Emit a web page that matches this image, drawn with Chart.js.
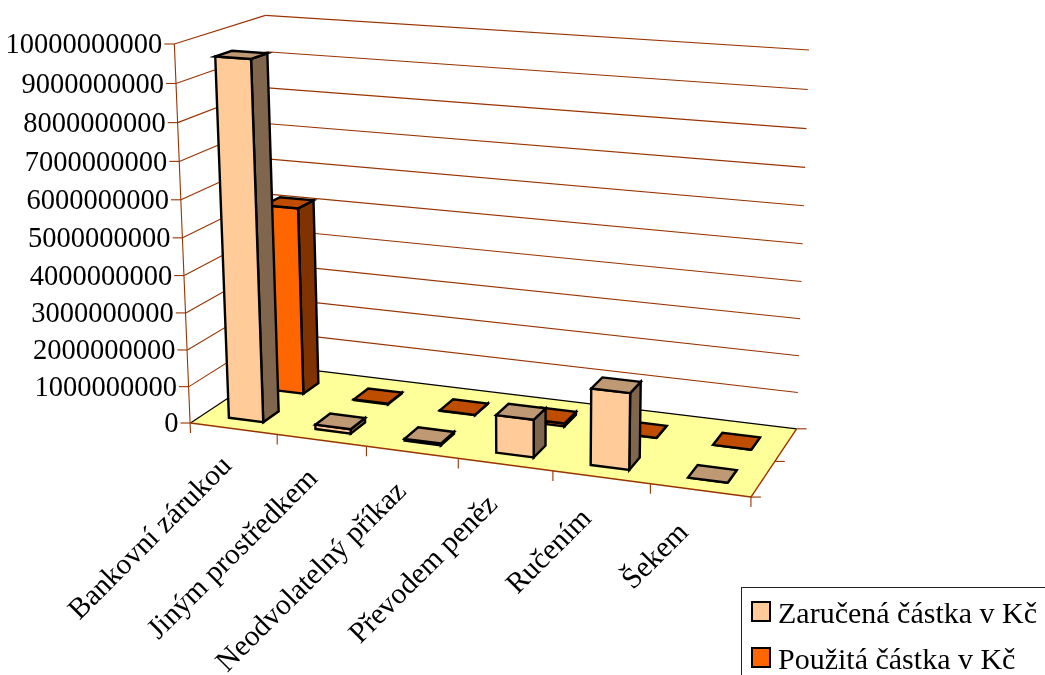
<!DOCTYPE html>
<html>
<head>
<meta charset="utf-8">
<title>Zajištění</title>
<style>
    html, body { margin: 0; padding: 0; background: #fff; overflow: hidden; }
    canvas { display: block; }
</style>
<script src="https://cdn.jsdelivr.net/npm/chart.js@4"></script>
</head>
<body>
<canvas id="guaranteeChart" width="1045" height="675"></canvas>
<script>
const categories = ['Bankovní zárukou', 'Jiným prostředkem', 'Neodvolatelný příkaz', 'Převodem peněz', 'Ručením', 'Šekem'];
const guaranteedAmount = [9620000000, 120000000, 50000000, 1000000000, 2000000000, 0];
const usedAmount = [5200000000, 20000000, 10000000, 80000000, 0, 0];
const seriesNames = ['Zaručená částka v Kč', 'Použitá částka v Kč'];
const seriesColors = ['#FFCC99', '#FF6600'];

const axisMax = 10000000000;
const axisStep = 1000000000;

const FONT = '"Liberation Serif", "Times New Roman", serif';
const GRID_COLOR = '#993300';
const TICK_LEN = 10;

// Depth range of each series row on the floor (0 = front, 1 = back wall)
const rowDepth = [[0.14, 0.32], [0.62, 0.81]];

// Perspective camera: maps (across, height, depth), all 0..1, to canvas pixels
const camera = {
    origin: [190.5, 423],
    across: [496.6, 31.8],
    height: [-24, -381],
    depth: [109.5, -26],
    w: [-0.085, -0.045, 0.085]
};

function project(u, v, d) {
    const w = 1 + camera.w[0] * u + camera.w[1] * v + camera.w[2] * d;
    return [
        (camera.origin[0] + camera.across[0] * u + camera.height[0] * v + camera.depth[0] * d) / w,
        (camera.origin[1] + camera.across[1] * u + camera.height[1] * v + camera.depth[1] * d) / w
    ];
}

function shade(hex, factor) {
    const n = parseInt(hex.slice(1), 16);
    const r = Math.round((n >> 16 & 255) * factor);
    const g = Math.round((n >> 8 & 255) * factor);
    const b = Math.round((n & 255) * factor);
    return `rgb(${r},${g},${b})`;
}

function polygon(ctx, points, fill, stroke, lineWidth) {
    ctx.beginPath();
    points.forEach((p, i) => i ? ctx.lineTo(p[0], p[1]) : ctx.moveTo(p[0], p[1]));
    ctx.closePath();
    if (fill) {
        ctx.fillStyle = fill;
        ctx.fill();
    }
    if (stroke) {
        ctx.strokeStyle = stroke;
        ctx.lineWidth = lineWidth;
        ctx.stroke();
    }
}

function line(ctx, a, b, color, lineWidth) {
    ctx.beginPath();
    ctx.moveTo(a[0], a[1]);
    ctx.lineTo(b[0], b[1]);
    ctx.strokeStyle = color;
    ctx.lineWidth = lineWidth;
    ctx.stroke();
}

// Bar controller that lays bars out on the normal scales and paints them as boxes
class Bar3dController extends Chart.BarController {
    draw() {
        const ctx = this.chart.ctx;
        const { x: xScale, y: yScale } = this.chart.scales;
        const meta = this.getMeta();
        const [d0, d1] = rowDepth[this.index];
        const color = this.getDataset().backgroundColor;

        ctx.save();
        ctx.lineJoin = 'miter';
        meta.data.forEach(bar => {
            const u0 = xScale.getDecimalForPixel(bar.x - bar.width / 2);
            const u1 = xScale.getDecimalForPixel(bar.x + bar.width / 2);
            const v = yScale.getDecimalForPixel(bar.y);

            polygon(ctx, [project(u1, 0, d0), project(u1, 0, d1), project(u1, v, d1), project(u1, v, d0)],
                shade(color, 0.5), '#000', 2.4);
            polygon(ctx, [project(u0, 0, d0), project(u1, 0, d0), project(u1, v, d0), project(u0, v, d0)],
                color, '#000', 2.4);
            polygon(ctx, [project(u0, v, d0), project(u1, v, d0), project(u1, v, d1), project(u0, v, d1)],
                shade(color, 0.75), '#000', 2.4);
        });
        ctx.restore();
    }
}
Bar3dController.id = 'bar3d';
Bar3dController.defaults = Chart.BarController.defaults;
Bar3dController.overrides = Chart.BarController.overrides;
Chart.register(Bar3dController);

// Walls, floor, gridlines and axis labels, projected from the chart's scales
const roomPlugin = {
    id: 'room',
    beforeDatasetsDraw(chart) {
        const ctx = chart.ctx;
        const { x: xScale, y: yScale } = chart.scales;

        ctx.save();
        polygon(ctx, [project(0, 0, 0), project(1, 0, 0), project(1, 0, 1), project(0, 0, 1)], '#FFFF99');
        line(ctx, project(0, 0, 0), project(0, 0, 1), '#000', 1.2);
        line(ctx, project(0, 0, 1), project(1, 0, 1), '#000', 1.2);
        line(ctx, project(0, 0, 0), project(1, 0, 0), GRID_COLOR, 1.4);
        line(ctx, project(1, 0, 0), project(1, 0, 1), GRID_COLOR, 1.4);

        // Value axis: wall gridlines, ticks and labels
        ctx.font = `28.5px ${FONT}`;
        ctx.fillStyle = '#000';
        ctx.textAlign = 'right';
        ctx.textBaseline = 'middle';
        yScale.ticks.forEach(tick => {
            const v = yScale.getDecimalForPixel(yScale.getPixelForValue(tick.value));
            const front = project(0, v, 0);
            const back = project(0, v, 1);
            if (v > 0) {
                line(ctx, front, back, GRID_COLOR, 1.1);
                line(ctx, back, project(1, v, 1), GRID_COLOR, 1.1);
            }
            line(ctx, [front[0] - TICK_LEN, front[1]], front, GRID_COLOR, 1.1);
            ctx.fillText(tick.label, front[0] - TICK_LEN - 2, front[1] + 2);
        });
        const foot = project(0, 0, 0);
        line(ctx, project(0, 1, 0), [foot[0], foot[1] + TICK_LEN], GRID_COLOR, 1.1);

        // Ticks on the right floor edge
        [0, 0.5, 1].forEach(d => {
            const p = project(1, 0, d);
            line(ctx, p, [p[0] + TICK_LEN, p[1]], GRID_COLOR, 1.1);
        });

        // Category ticks and slanted labels along the front edge
        ctx.font = `29.5px ${FONT}`;
        categories.forEach((name, i) => {
            const tickPoint = project(xScale.getDecimalForPixel(xScale.getPixelForTick(i) + xScale.width / categories.length / 2), 0, 0);
            line(ctx, tickPoint, [tickPoint[0], tickPoint[1] + TICK_LEN], GRID_COLOR, 1.1);

            const mid = project(xScale.getDecimalForPixel(xScale.getPixelForTick(i)), 0, 0);
            ctx.save();
            ctx.translate(mid[0] - 6 - 2 * i, mid[1] + 33 + i);
            ctx.rotate(-Math.PI / 4);
            ctx.textAlign = 'right';
            ctx.textBaseline = 'middle';
            ctx.fillText(name, 0, 0);
            ctx.restore();
        });
        ctx.restore();
    },
    afterDraw(chart) {
        const ctx = chart.ctx;
        ctx.save();
        ctx.fillStyle = '#fff';
        ctx.fillRect(741.5, 587.5, 320, 110);
        ctx.strokeStyle = '#222';
        ctx.lineWidth = 1;
        ctx.strokeRect(741.5, 587.5, 320, 110);

        ctx.font = `30px ${FONT}`;
        ctx.textAlign = 'left';
        ctx.textBaseline = 'alphabetic';
        chart.data.datasets.forEach((dataset, i) => {
            const top = 602 + i * 46;
            ctx.fillStyle = dataset.backgroundColor;
            ctx.fillRect(752, top, 18, 19);
            ctx.strokeStyle = '#000';
            ctx.lineWidth = 2;
            ctx.strokeRect(752, top, 18, 19);
            ctx.fillStyle = '#000';
            ctx.fillText(dataset.label, 778, top + 21);
        });
        ctx.restore();
    }
};

new Chart(document.getElementById('guaranteeChart').getContext('2d'), {
    type: 'bar3d',
    data: {
        labels: categories,
        datasets: [
            { label: seriesNames[0], data: guaranteedAmount, backgroundColor: seriesColors[0] },
            { label: seriesNames[1], data: usedAmount, backgroundColor: seriesColors[1] }
        ]
    },
    options: {
        responsive: false,
        animation: false,
        events: [],
        grouped: false,
        barPercentage: 0.4,
        categoryPercentage: 1,
        scales: {
            x: { type: 'category', display: false },
            y: {
                type: 'linear',
                display: false,
                min: 0,
                max: axisMax,
                ticks: { stepSize: axisStep, callback: value => String(value) }
            }
        },
        plugins: {
            legend: { display: false },
            tooltip: { enabled: false }
        }
    },
    plugins: [roomPlugin]
});
</script>
</body>
</html>
